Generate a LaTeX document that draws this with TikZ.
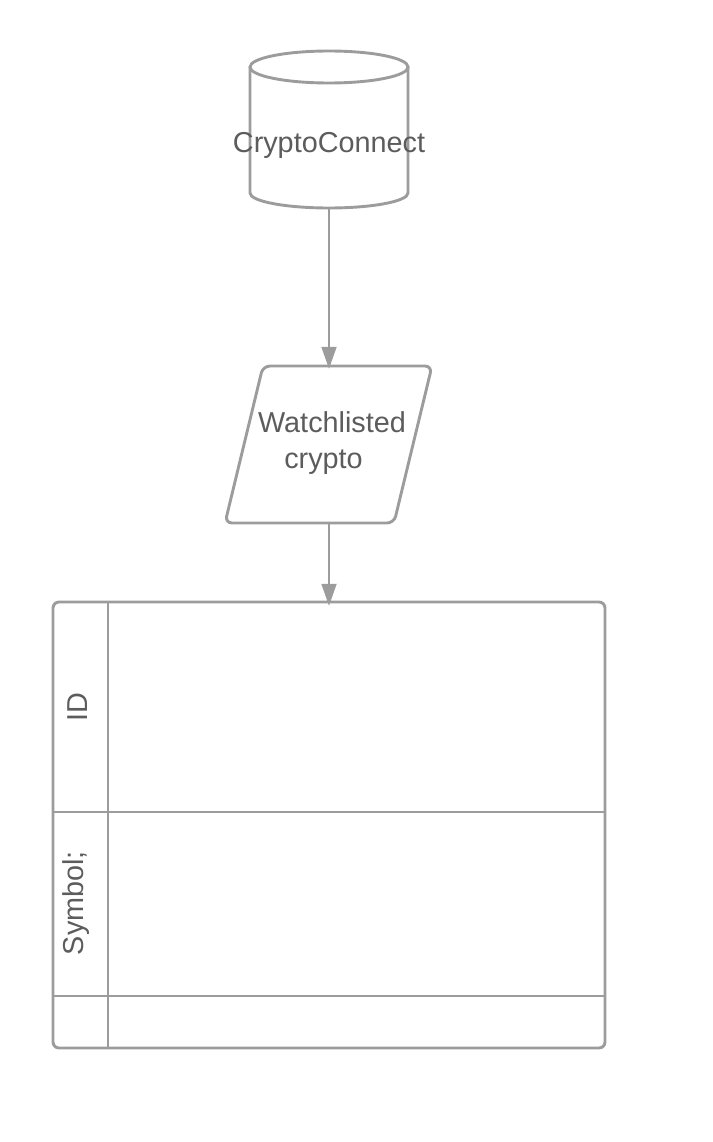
\documentclass[tikz,border=0pt]{standalone}
\usepackage{fontspec}
\setmainfont{Liberation Sans}
\usetikzlibrary{arrows.meta}
\definecolor{linegray}{HTML}{9C9C9C}
\definecolor{textgray}{HTML}{5C5C5C}
\tikzset{
  shapeline/.style={draw=linegray, line width=2.9pt},
  label text/.style={text=textgray, font=\fontsize{28.8}{36}\selectfont, align=center, inner sep=0pt},
  connector/.style={draw=linegray, line width=1.8pt, -{Triangle[length=22pt,width=15pt]}},
  anchorbox/.style={draw=none, inner sep=0pt, minimum width=#1},
}
\begin{document}
\begin{tikzpicture}[x=1pt,y=-1pt]
\useasboundingbox (0,0) rectangle (712,1142);
% cylinder
\node[anchorbox=158pt, minimum height=157pt] (db) at (329,129.5) {};
\draw[shapeline, fill=white] (250,67) -- (250,193) arc[start angle=180, end angle=360, x radius=79, y radius=-15] -- (408,67);
\draw[shapeline] (329,67) ellipse[x radius=79, y radius=16];
\node[label text] (dbtext) at (329,145) {CryptoConnect};
% parallelogram
\node[anchorbox=190pt, minimum height=157pt] (wl) at (329,444.5) {};
\draw[shapeline, rounded corners=7pt] (263,366) -- (432,366) -- (394,523) -- (225,523) -- cycle;
\node[label text] (wltext) at (332,443) {Watchlisted\\crypto\hspace*{17pt}};
% table
\node[anchorbox=552pt, minimum height=446pt] (tbl) at (329,825) {};
\draw[shapeline, rounded corners=6pt] (53,602) rectangle (605,1048);
\draw[shapeline] (108,602) -- (108,1048);
\draw[shapeline] (53,812) -- (605,812);
\draw[shapeline] (53,996) -- (605,996);
\node[label text, rotate=90] (idlabel) at (78,707.5) {ID};
\node[label text, rotate=90] (symlabel) at (76,903) {Symbol;};
% connectors
\draw[connector] (db.south) -- ([yshift=-3pt]wl.north);
\draw[connector] (wl.south) -- ([yshift=-4pt]tbl.north);
\end{tikzpicture}
\end{document}
